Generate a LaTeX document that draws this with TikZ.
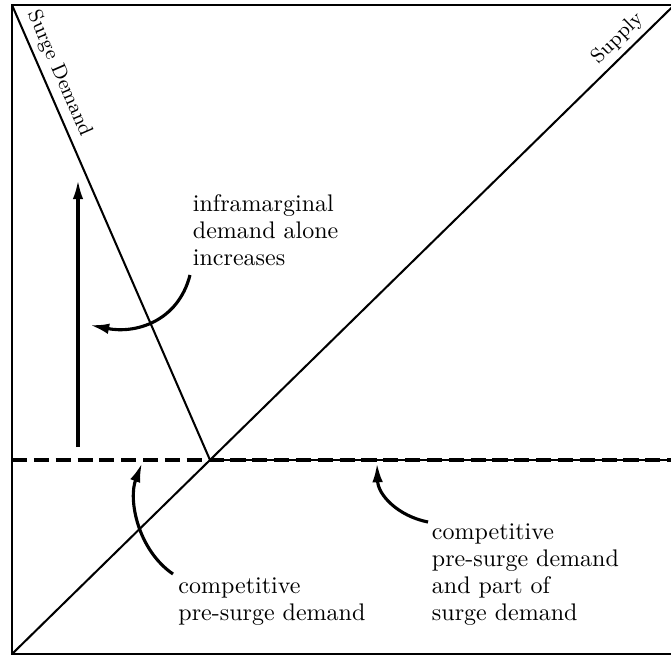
\documentclass[tikz,border=0pt]{standalone}
\usetikzlibrary{arrows.meta}
\begin{document}
\begin{tikzpicture}[x=0.4167pt,y=-0.4167pt,
  frame/.style={line width=1pt},
  curveline/.style={line width=0.85pt},
  bigarrow/.style={line width=1.3pt,-{Latex[length=8pt,width=4.4pt]}},
  dashline/.style={line width=1.45pt,dash pattern=on 6.3pt off 2.8pt},
  thinline/.style={line width=0.8pt},
  lab/.style={font=\fontsize{10}{11.25}\selectfont,align=left,inner sep=0pt,anchor=north west},
  linelab/.style={font=\fontsize{8.5}{10}\selectfont,sloped,above,inner sep=2.3pt}]
\useasboundingbox (0,0) rectangle (671,656);
\clip (0,0) rectangle (671,656);
% frame
\coordinate (TL) at (12,5);
\coordinate (BL) at (12,654);
\coordinate (TR) at (700,5);
\coordinate (BR) at (700,654);
\draw[frame] (TR) -- (TL) -- (BL) -- (BR);
% equilibrium
\coordinate (X) at (210,460);
\coordinate (SE) at (680,-0.6);
\coordinate (DL) at (12,460);
\coordinate (DR) at (690,460);
% supply and surge demand
\draw[curveline] (BL) -- (SE) node[linelab,pos=0.923] {Supply};
\draw[curveline] (TL) -- (X) node[linelab,pos=0.165] {Surge Demand};
% dashed pre-surge demand
\draw[thinline] (X) -- (DR);
\draw[dashline] (DL) -- (DR);
% vertical arrow
\coordinate (U0) at (78,447);
\coordinate (U1) at (78,180);
\draw[bigarrow] (U0) -- (U1);
% labels
\node[lab] (t1) at (192.5,194.5) {inframarginal\\demand alone\\increases};
\node[lab] (t2) at (178,577) {competitive\\pre-surge demand};
\node[lab] (t3) at (431.5,523) {competitive\\pre-surge demand\\and part of\\surge demand};
% curved arrows
\coordinate (a1s) at (190,275);
\coordinate (a1e) at (90,325);
\draw[bigarrow] (a1s) .. controls (178,322) and (135,334) .. (a1e);
\coordinate (a2s) at (173,574);
\coordinate (a2e) at (142,463);
\draw[bigarrow] (a2s) .. controls (138,550) and (128,500) .. (a2e);
\coordinate (a3s) at (428,522);
\coordinate (a3e) at (377,463);
\draw[bigarrow] (a3s) .. controls (398,516) and (378,495) .. (a3e);
\end{tikzpicture}
\end{document}
